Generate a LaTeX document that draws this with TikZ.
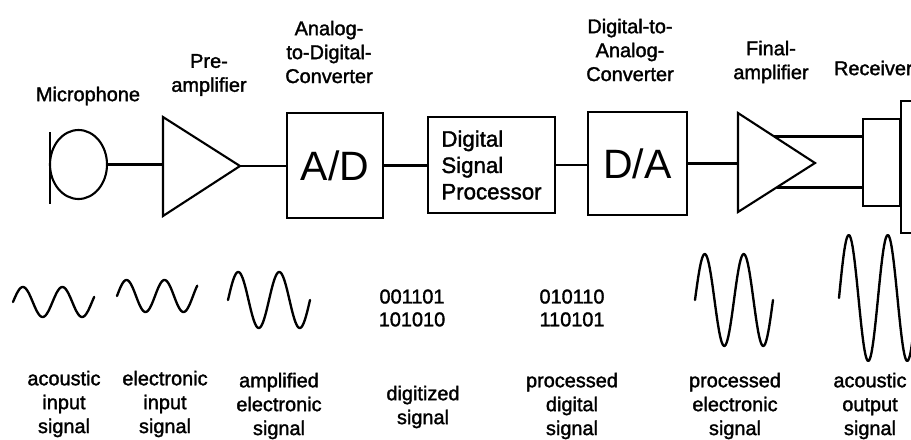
\documentclass[tikz,border=0pt]{standalone}
\usepackage{fontspec}
\setmainfont{Liberation Sans}[BoldFont=Liberation Sans, BoldFeatures={FakeBold=1.6}]
\usetikzlibrary{shapes.geometric, calc}

\begin{document}
\begin{tikzpicture}[x=0.03cm, y=-0.03cm, line width=1.8pt,
    lbl/.style={font=\fontsize{17}{20.4}\selectfont\bfseries, align=center, inner sep=0pt},
    block/.style={draw, line width=1.8pt, inner sep=0pt},
    bigtext/.style={font=\fontsize{35}{40}\selectfont},
    bits/.style={font=\fontsize{17}{19.5}\selectfont\bfseries, align=center, inner sep=0pt},
    wave/.style={line width=2pt, line join=round, line cap=round}
]
    \useasboundingbox (0,0) rectangle (911,439);

    % Microphone
    \node[draw, ellipse, minimum width=1.71cm, minimum height=2.07cm, inner sep=0pt] (mic) at (78.5,164.5) {};
    \coordinate (bartop) at (50,132);
    \coordinate (barbot) at (50,204);
    \draw (bartop) -- (barbot);

    % Pre-amplifier
    \coordinate (pretop) at (163,117);
    \coordinate (prebot) at (163,216);
    \coordinate (preout) at (240,166);
    \coordinate (prein) at (163,166);
    \draw[line join=miter] (pretop) -- (preout) -- (prebot) -- cycle;

    % Converters and processor
    \node[block, bigtext, minimum width=2.88cm, minimum height=3.15cm] (ad) at (335,165.5) {A/D};
    \node[block, minimum width=3.81cm, minimum height=2.88cm, align=left,
          font=\fontsize{19}{22.5}\selectfont\bfseries] (dsp) at (491.5,165) {Digital\\Signal\\Processor};
    \node[block, bigtext, minimum width=2.97cm, minimum height=3.09cm] (da) at (637.5,163.5) {D/A};

    % Final amplifier
    \coordinate (fintop) at (738,113);
    \coordinate (finbot) at (738,212);
    \coordinate (finout) at (815,163);
    \coordinate (finin) at (738,163);
    \draw[line join=miter] (fintop) -- (finout) -- (finbot) -- cycle;
    \coordinate (finup) at ($(fintop)!0.47!(finout)$);
    \coordinate (finlow) at ($(finbot)!0.5!(finout)$);

    % Receiver
    \node[block, minimum width=1.11cm, minimum height=2.61cm] (rx) at (881.5,162.5) {};
    \node[block, anchor=north west, minimum width=0.6cm, minimum height=3.96cm] (spk) at (900,100) {};

    % Connections
    \draw (mic.east) -- (mic.east -| prein);
    \draw (preout) -- (preout -| ad.west);
    \draw (ad.east) -- (ad.east -| dsp.west);
    \draw (dsp.east) -- (dsp.east -| da.west);
    \draw (da.east) -- (da.east -| finin);
    \draw (finup) -- (finup -| rx.west);
    \draw (finlow) -- (finlow -| rx.west);

    % Block labels
    \node[lbl] (micl) at (88,96) {Microphone};
    \node[lbl] (prel) at (209,75) {Pre-\\amplifier};
    \node[lbl] (adl) at (329,52) {Analog-\\to-Digital-\\Converter};
    \node[lbl] (dal) at (630,50) {Digital-to-\\Analog-\\Converter};
    \node[lbl] (finl) at (771,62) {Final-\\amplifier};
    \node[lbl, anchor=west] (rxl) at (833,68) {Receiver};

    % Signals
    \draw[wave] plot[domain=0:740, samples=90, smooth] ({13+\x/360*39.5}, {302-15*sin(\x)});
    \draw[wave] plot[domain=0:760, samples=90, smooth] ({117+\x/360*38}, {296-16*sin(\x)});
    \draw[wave] plot[domain=0:720, samples=90, smooth] ({228+\x/360*41}, {300-28*sin(\x)});
    \node[bits] (bin1) at (412,308) {001101\\101010};
    \node[bits] (bin2) at (572,308) {010110\\110101};
    \draw[wave] plot[domain=0:720, samples=90, smooth] ({695+\x/360*39}, {300-46*sin(\x)});
    \draw[wave] plot[domain=0:800, samples=90, smooth] ({839+\x/360*39}, {298-63*sin(\x)});

    % Signal labels
    \node[lbl] (s1) at (64,404) {acoustic\\input\\signal};
    \node[lbl] (s2) at (165,404) {electronic\\input\\signal};
    \node[lbl] (s3) at (279,406) {amplified\\electronic\\signal};
    \node[lbl] (s4) at (423,407) {digitized\\signal};
    \node[lbl] (s5) at (572,406) {processed\\digital\\signal};
    \node[lbl] (s6) at (735,406) {processed\\electronic\\signal};
    \node[lbl] (s7) at (870,406) {acoustic\\output\\signal};
\end{tikzpicture}
\end{document}
